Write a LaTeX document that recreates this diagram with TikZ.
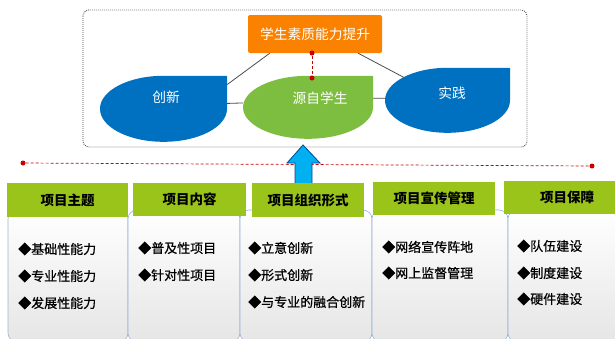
\documentclass[tikz,border=0pt]{standalone}
\usepackage{fontspec}
\newfontfamily\cjk{Noto Sans CJK SC}
\newfontfamily\cjkitem[FakeBold=0.7]{Noto Sans CJK SC}
\definecolor{hdgreen}{RGB}{155,196,26}
\definecolor{leafgreen}{RGB}{125,190,65}
\definecolor{leafblue}{RGB}{0,112,192}
\definecolor{topbox}{RGB}{250,130,0}
\definecolor{arrowfill}{RGB}{0,176,240}
\definecolor{arrowline}{RGB}{0,70,150}
\definecolor{panelline}{RGB}{150,180,215}
\definecolor{dotred}{RGB}{200,0,0}
\begin{document}
\begin{tikzpicture}[x=1pt,y=1pt,
  hdr/.style={fill=hdgreen,inner sep=0pt,font=\cjk\bfseries\fontsize{13.5}{16}\selectfont},
  panel/.style={draw=panelline,line width=0.6pt,rounded corners=9pt,top color=white,bottom color=black!10,inner sep=0pt},
  item/.style={anchor=west,inner sep=0pt,font=\cjkitem\fontsize{13}{15}\selectfont},
  leafbox/.style={inner sep=0pt},
  leaftext/.style={inner sep=1pt,text=white,font=\cjk\fontsize{13.75}{16}\selectfont},
  link/.style={draw=black!70,line width=0.8pt},
  reddot/.style={circle,fill=dotred,inner sep=0pt,minimum size=5pt},
  reddash/.style={draw=dotred,line width=0.7pt,dash pattern=on 3pt off 2pt}]
\useasboundingbox (0,0) rectangle (615,-338);
% top frame
\draw[black!75,line width=0.9pt,dash pattern=on 0.8pt off 1.2pt,rounded corners=6pt] (83,-10) rectangle (527,-147);
\node[fill=topbox,rounded corners=2pt,inner sep=0pt,minimum width=134,minimum height=38,text=white,font=\cjk\fontsize{13.75}{16}\selectfont] (top) at (315,-34) {学生素质能力提升};
\node[leafbox,minimum width=127,minimum height=66] (cx) at (163.5,-109) {};
\node[leafbox,minimum width=130,minimum height=63] (yz) at (308,-107.5) {};
\node[leafbox,minimum width=125,minimum height=65] (sj) at (447.5,-100.5) {};
\draw[link] (top.203) to (cx.21.5);
\draw[link] (top.336) to (sj.center);
\draw[link] (cx.5) to (yz.176);
\draw[link] (yz.8) to (sj.178);
\fill[leafblue] (cx.north east) -- (cx.north) arc[start angle=90,end angle=360,x radius=63.5,y radius=33] -- cycle;
\fill[leafgreen] (yz.north east) -- (yz.north) arc[start angle=90,end angle=360,x radius=65,y radius=31.5] -- cycle;
\fill[leafblue] (sj.north east) -- (sj.north) arc[start angle=90,end angle=360,x radius=62.5,y radius=32.5] -- cycle;
\node[leaftext] (cxt) at (166,-97) {创新};
\node[leaftext] (yzt) at (320,-98) {源自学生};
\node[leaftext] (sjt) at (452,-93) {实践};
\node[reddot] (d1) at (312,-53) {};
\node[reddot] (d2) at (312,-78) {};
\draw[reddash] (d1) to (d2);
% red line
\node[reddot] (l1) at (23,-163) {};
\node[reddot] (l2) at (592,-166) {};
\draw[reddash] (l1) to (l2);
% panels
\node[panel,minimum width=120,minimum height=132] (p1) at (68,-276) {};
\node[panel,minimum width=112,minimum height=132] (p2) at (184,-276) {};
\node[panel,minimum width=132,minimum height=132] (p3) at (306,-276) {};
\node[panel,minimum width=136,minimum height=132] (p4) at (440,-276) {};
\node[panel,minimum width=122,minimum height=132] (p5) at (569,-276) {};
% arrow
\filldraw[fill=arrowfill,draw=arrowline,line width=0.8pt] (295,-190) -- (295,-163) -- (287,-163) -- (303,-145) -- (320,-163) -- (312,-163) -- (312,-190) -- cycle;
% headers
\node[hdr,minimum width=121,minimum height=34] (h1) at (67.5,-200) {项目主题};
\node[hdr,minimum width=113,minimum height=33] (h2) at (189.5,-199.5) {项目内容};
\node[hdr,minimum width=112,minimum height=34] (h3) at (308,-200) {项目组织形式};
\node[hdr,minimum width=122,minimum height=33] (h4) at (434,-198.5) {项目宣传管理};
\node[hdr,minimum width=126,minimum height=33] (h5) at (567,-197.5) {项目保障};
% items
\node[item] (i11) at (18,-249) {◆基础性能力};
\node[item] (i12) at (18,-276) {◆专业性能力};
\node[item] (i13) at (18,-303) {◆发展性能力};
\node[item] (i21) at (138,-248) {◆普及性项目};
\node[item] (i22) at (138,-275) {◆针对性项目};
\node[item] (i31) at (248,-248) {◆立意创新};
\node[item] (i32) at (248,-275) {◆形式创新};
\node[item] (i33) at (248,-302) {◆与专业的融合创新};
\node[item] (i41) at (382,-247) {◆网络宣传阵地};
\node[item] (i42) at (382,-273) {◆网上监督管理};
\node[item] (i51) at (517,-246) {◆队伍建设};
\node[item] (i52) at (517,-273) {◆制度建设};
\node[item] (i53) at (517,-299) {◆硬件建设};
\end{tikzpicture}
\end{document}
